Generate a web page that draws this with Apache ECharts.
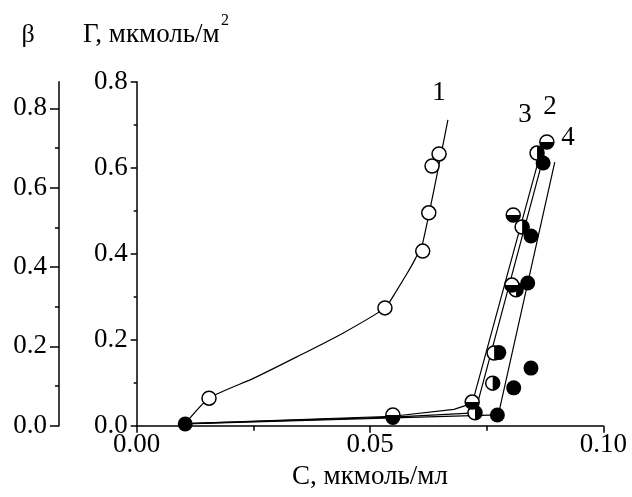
<!DOCTYPE html>
<html><head><meta charset="utf-8">
<script src="https://cdn.jsdelivr.net/npm/echarts@6/dist/echarts.min.js"></script>
<style>html,body{margin:0;padding:0;background:#fff}#c{width:632px;height:497px}</style>
</head><body><div id="c"></div>
<script>
// ---- data ----
const xTicks = [0, 0.05, 0.10];
const gammaTicks = [0, 0.2, 0.4, 0.6, 0.8];
const betaTicks = [0, 0.2, 0.4, 0.6, 0.8];
const betaMinor = [0.1, 0.3, 0.5, 0.7];

// curve 1 (open circles)
const c1Points = [[0.0155,0.064],[0.0532,0.274],[0.0613,0.406],[0.0626,0.495],[0.0633,0.604],[0.0648,0.632]];
const c1Line = [[0.0104,0.005],[0.0155,0.064],[0.0250,0.110],[0.0343,0.160],[0.0440,0.214],[0.0532,0.274],[0.0558,0.316],[0.0580,0.355],[0.0597,0.388],[0.0613,0.425],[0.0667,0.711]];
// curve 2 (top white / bottom black)
const c2Points = [[0.0549,0.025],[0.0719,0.055],[0.0804,0.327],[0.0807,0.490],[0.0879,0.660]];
const c2Line = [[0.0104,0.005],[0.0549,0.022],[0.0680,0.038],[0.0719,0.052],[0.0872,0.660]];
// curve 3 (left white / right black)
const c3Points = [[0.0725,0.030],[0.0763,0.099],[0.0766,0.169],[0.0813,0.316],[0.0826,0.462],[0.0858,0.634]];
const c3Line = [[0.0104,0.005],[0.0549,0.020],[0.0725,0.030],[0.0873,0.630]];
// curve 4 (filled circles)
const c4Points = [[0.0104,0.004],[0.0549,0.019],[0.0773,0.025],[0.0808,0.088],[0.0845,0.134],[0.0776,0.170],[0.0838,0.332],[0.0845,0.441],[0.0871,0.611]];
const c4Line = [[0.0104,0.004],[0.0549,0.018],[0.0775,0.025],[0.0896,0.613]];

const curveLabels = ['1','2','3','4'];

// ---- styling ----
const FONT = '"Liberation Serif","Times New Roman",serif';
const FS = 27;
const SYM = 14;
function halfDisc(dir){
  let pts=[];
  for(let i=0;i<=24;i++){
    const t = (dir==='bottom') ? Math.PI*i/24 : -Math.PI/2+Math.PI*i/24;
    pts.push((10*Math.cos(t)).toFixed(3)+','+(10*Math.sin(t)).toFixed(3));
  }
  return 'path://M'+pts.join(' L')+' Z';
}
const lineStyle = {color:'#000', width:1.2};
function lineSeries(data, smooth){
  return {type:'line', data, showSymbol:false, symbol:'none', smooth: smooth||false,
    lineStyle, z:2, silent:true, animation:false};
}
function openSeries(data, z){
  return {type:'scatter', data, symbol:'circle', symbolSize:SYM,
    itemStyle:{color:'#fff', borderColor:'#000', borderWidth:1.5, opacity:1}, z, animation:false};
}
function halfSeries(data, dir, z){
  return {type:'scatter', data, symbol:halfDisc(dir),
    symbolSize: dir==='bottom' ? [SYM, SYM/2] : [SYM/2, SYM],
    symbolOffset: dir==='bottom' ? [0, SYM/4] : [SYM/4, 0],
    itemStyle:{color:'#000', opacity:1}, z, animation:false};
}

const chart = echarts.init(document.getElementById('c'), null, {renderer:'canvas'});
const axisLine = {show:true, lineStyle:{color:'#000', width:1.5}};
const labelStyle = {color:'#000', fontFamily:FONT, fontSize:FS};

chart.setOption({
  backgroundColor:'#fff',
  animation:false,
  grid:{left:136.7, right:28.7, top:81.7, bottom:71.3, containLabel:false},
  xAxis:{type:'value', min:0, max:0.10, interval:0.05,
    axisLine, splitLine:{show:false},
    axisTick:{show:true, length:7, lineStyle:{color:'#000', width:1.5}},
    minorTick:{show:true, splitNumber:2, length:5, lineStyle:{color:'#000', width:1.5}},
    axisLabel:Object.assign({margin:6, formatter:v=>v.toFixed(2), customValues:xTicks}, labelStyle),
    name:'C, мкмоль/мл', nameLocation:'middle', nameGap:26,
    nameTextStyle:{color:'#000', fontFamily:FONT, fontSize:FS}
  },
  yAxis:[
    {type:'value', min:0, max:0.8, interval:0.2, position:'left',
      axisLine, splitLine:{show:false},
      axisTick:{show:true, length:6, lineStyle:{color:'#000', width:1.5}},
      minorTick:{show:true, splitNumber:2, length:3, lineStyle:{color:'#000', width:1.5}},
      axisLabel:Object.assign({margin:9, formatter:v=>v.toFixed(1), customValues:gammaTicks}, labelStyle)
    },
    {type:'value', min:0, max:0.867, position:'left', offset:77.7,
      axisLine, splitLine:{show:false},
      axisTick:{show:true, length:9, customValues:betaTicks, lineStyle:{color:'#000', width:1.5}},
      axisLabel:Object.assign({margin:12, formatter:v=>v.toFixed(1), customValues:betaTicks}, labelStyle)
    },
    {type:'value', min:0, max:0.867, position:'left', offset:77.7,
      axisLine:{show:false}, splitLine:{show:false},
      axisTick:{show:true, length:4, customValues:betaMinor, lineStyle:{color:'#000', width:1.5}},
      axisLabel:{show:false}
    }
  ],
  series:[
    lineSeries(c1Line, 0.2),
    lineSeries(c2Line),
    lineSeries(c3Line),
    lineSeries(c4Line),
    openSeries(c1Points, 3),
    {type:'scatter', data:c4Points, symbol:'circle', symbolSize:SYM+1, itemStyle:{color:'#000', opacity:1}, z:3, animation:false},
    openSeries(c3Points, 4),
    halfSeries(c3Points, 'right', 4),
    openSeries(c2Points, 5),
    halfSeries(c2Points, 'bottom', 5)
  ],
  graphic:[
    {type:'text', x:28, y:35, style:{text:'β', fontFamily:FONT, fontSize:26, fill:'#000', align:'center', verticalAlign:'middle'}},
    {type:'text', x:83, y:35, style:{text:'Γ, мкмоль/м', fontFamily:FONT, fontSize:27, fill:'#000', align:'left', verticalAlign:'middle'}},
    {type:'text', x:221, y:21, style:{text:'2', fontFamily:FONT, fontSize:16, fill:'#000', align:'left', verticalAlign:'middle'}},
    {type:'text', x:439, y:93, style:{text:curveLabels[0], fontFamily:FONT, fontSize:FS, fill:'#000', align:'center', verticalAlign:'middle'}},
    {type:'text', x:550, y:107, style:{text:curveLabels[1], fontFamily:FONT, fontSize:FS, fill:'#000', align:'center', verticalAlign:'middle'}},
    {type:'text', x:525, y:115, style:{text:curveLabels[2], fontFamily:FONT, fontSize:FS, fill:'#000', align:'center', verticalAlign:'middle'}},
    {type:'text', x:568, y:138, style:{text:curveLabels[3], fontFamily:FONT, fontSize:FS, fill:'#000', align:'center', verticalAlign:'middle'}}
  ]
});
</script></body></html>
